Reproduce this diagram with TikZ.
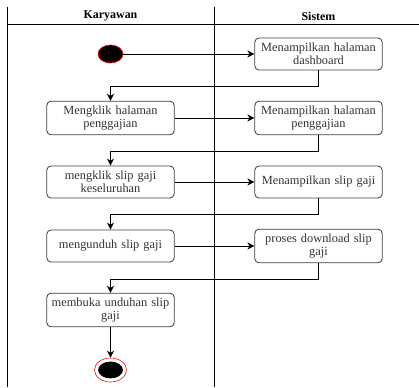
\documentclass[tikz,border=0pt]{standalone}
\usepackage{fontspec}
\setmainfont{Liberation Serif}
\usetikzlibrary{arrows.meta,shapes.geometric,positioning}

\begin{document}
\begin{tikzpicture}[
    x=0.025cm, y=-0.025cm,
    act/.style={draw=black!75, rounded corners=3pt, minimum width=3.125cm, minimum height=0.8cm, text width=2.95cm, align=center, font=\fontsize{8.8}{9.2}\selectfont, text=black!80, line width=0.6pt},
    dot/.style={ellipse, fill=black, inner sep=0pt},
    lane/.style={line width=0.6pt},
    hdr/.style={font=\fontsize{8.5}{10}\selectfont\bfseries},
    arr/.style={-{Stealth[length=5pt,width=5pt]}, line width=0.6pt}
]
\useasboundingbox (0,0) rectangle (419,387);
% swimlanes
\draw[lane] (7,7) -- (7,387);
\draw[lane] (214,7) -- (214,387);
\draw[lane] (7,24) -- (419,24);
\node[hdr] (karyawan) at (110.5,16) {Karyawan};
\node[hdr] (sistem) at (318.5,16) {Sistem};

\node[dot, draw=red, minimum width=0.625cm, minimum height=0.45cm] (start) at (110.5,54) {};
\node[act] (r1) at (318.5,54) {Menampilkan halaman\\dashboard};
\node[act] (l2) at (110.5,118) {Mengklik halaman\\penggajian};
\node[act] (r2) at (318.5,118) {Menampilkan halaman\\penggajian};
\node[act] (l3) at (110.5,182) {mengklik slip gaji\\keseluruhan};
\node[act] (r3) at (318.5,182) {Menampilkan slip gaji};
\node[act] (l4) at (110.5,246) {mengunduh slip gaji};
\node[act] (r4) at (318.5,246) {proses download slip\\gaji};
\node[act] (l5) at (110.5,310) {membuka unduhan slip\\gaji};
\node[ellipse, draw=red, fill=white, minimum width=0.8cm, minimum height=0.6cm, inner sep=0pt] (end) at (110.5,370) {};
\node[dot, minimum width=0.62cm, minimum height=0.42cm] (endin) at (end) {};

\draw[arr] (start) -- (r1);
\draw[arr] (r1.south) -- ++(0,16) -| (l2.north);
\draw[arr] (l2) -- (r2);
\draw[arr] (r2.south) -- ++(0,16) -| (l3.north);
\draw[arr] (l3) -- (r3);
\draw[arr] (r3.south) -- ++(0,16) -| (l4.north);
\draw[arr] (l4) -- (r4);
\draw[arr] (r4.south) -- ++(0,16) -| (l5.north);
\draw[arr] (l5) -- (end);
\end{tikzpicture}
\end{document}
